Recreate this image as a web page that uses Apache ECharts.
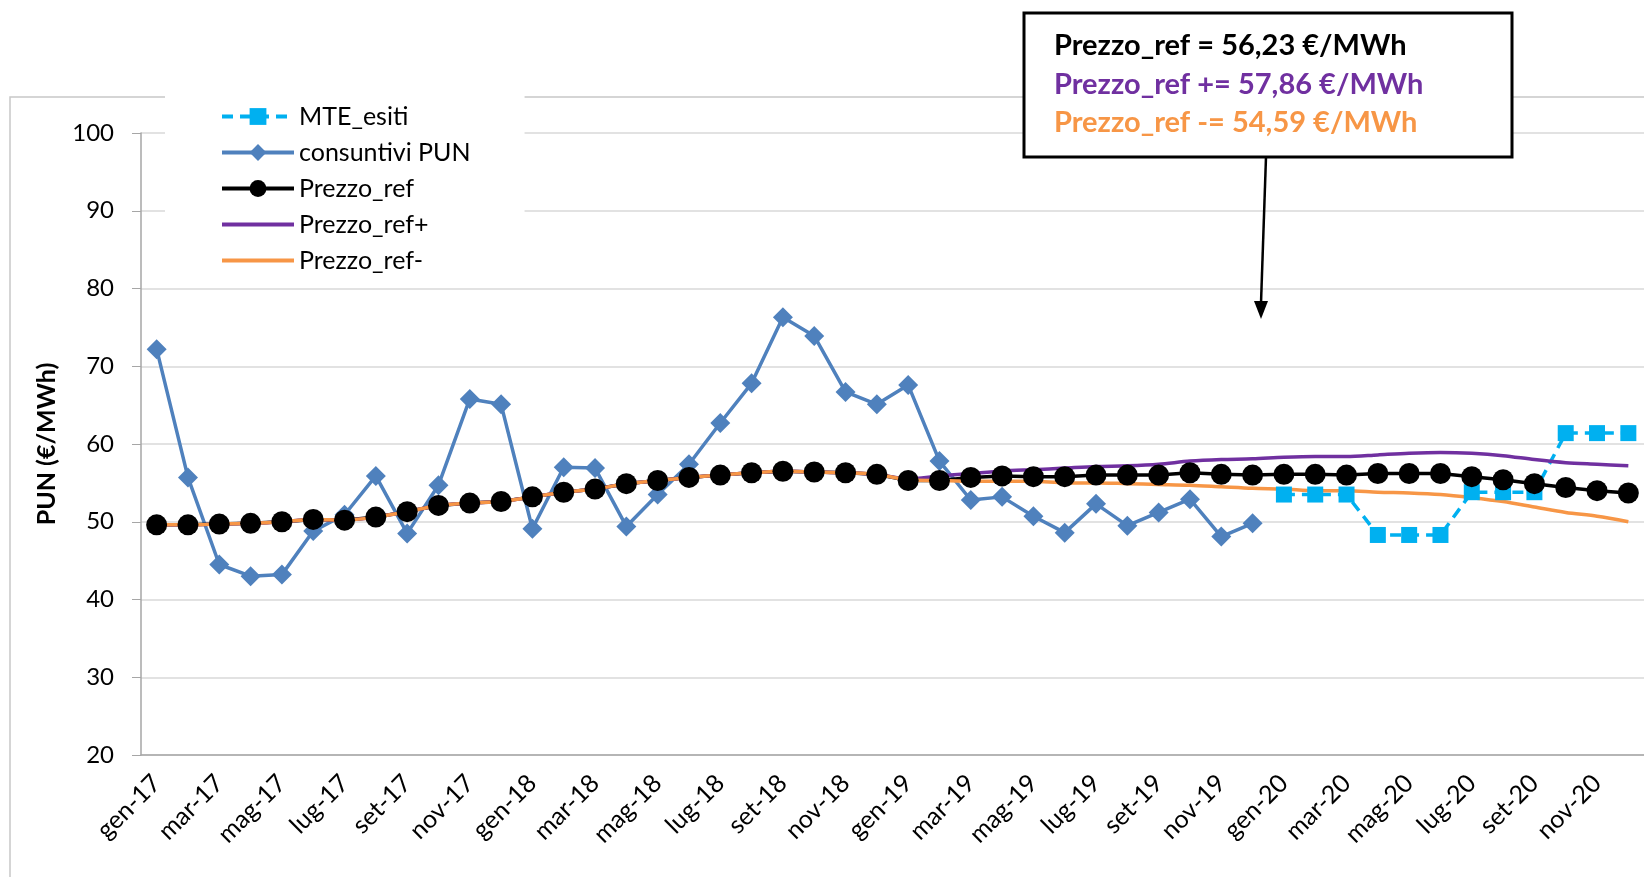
<!DOCTYPE html>
<html>
<head>
<meta charset="utf-8">
<script src="https://cdn.jsdelivr.net/npm/echarts@6/dist/echarts.min.js"></script>
<style>
  html, body { margin: 0; padding: 0; background: #fff; }
  #chart { width: 1644px; height: 877px; }
</style>
</head>
<body>
<div id="chart"></div>
<script>
// mesi gen-17 ... dic-20
const mesi = ['gen', 'feb', 'mar', 'apr', 'mag', 'giu', 'lug', 'ago', 'set', 'ott', 'nov', 'dic'];
const anni = ['17', '18', '19', '20'];
const categories = [];
anni.forEach(a => mesi.forEach(m => categories.push(m + '-' + a)));

const pun = [72.2, 55.7, 44.5, 43.0, 43.2, 48.8, 50.9, 55.9, 48.5, 54.7, 65.8, 65.1,
  49.1, 57.0, 56.9, 49.4, 53.5, 57.4, 62.7, 67.8, 76.3, 73.9, 66.7, 65.1,
  67.6, 57.8, 52.8, 53.2, 50.7, 48.6, 52.3, 49.5, 51.2, 52.9, 48.1, 49.8,
  null, null, null, null, null, null, null, null, null, null, null, null];

const mteEsiti = [null, null, null, null, null, null, null, null, null, null, null, null,
  null, null, null, null, null, null, null, null, null, null, null, null,
  null, null, null, null, null, null, null, null, null, null, null, null,
  53.5, 53.5, 53.5, 48.3, 48.3, 48.3, 53.8, 53.8, 53.8, 61.4, 61.4, 61.4];

const prezzoRef = [49.6, 49.6, 49.7, 49.8, 50.0, 50.3, 50.2, 50.6, 51.3, 52.1, 52.4, 52.6,
  53.2, 53.8, 54.2, 54.9, 55.3, 55.7, 56.0, 56.3, 56.5, 56.4, 56.3, 56.1,
  55.3, 55.3, 55.7, 55.9, 55.8, 55.8, 56.0, 56.0, 56.0, 56.3, 56.1, 56.0,
  56.1, 56.1, 56.0, 56.2, 56.2, 56.2, 55.8, 55.4, 54.9, 54.4, 54.0, 53.7];

const prezzoRefPiu = [49.6, 49.6, 49.7, 49.8, 50.0, 50.3, 50.2, 50.6, 51.3, 52.1, 52.4, 52.6,
  53.2, 53.8, 54.2, 54.9, 55.3, 55.7, 56.0, 56.3, 56.5, 56.4, 56.3, 56.1,
  55.5, 55.9, 56.2, 56.5, 56.7, 56.9, 57.1, 57.2, 57.4, 57.8, 58.0, 58.1,
  58.3, 58.4, 58.4, 58.6, 58.8, 58.9, 58.8, 58.5, 58.0, 57.6, 57.4, 57.2];

const prezzoRefMeno = [49.6, 49.6, 49.7, 49.8, 50.0, 50.3, 50.2, 50.6, 51.3, 52.1, 52.4, 52.6,
  53.2, 53.8, 54.2, 54.9, 55.3, 55.7, 56.0, 56.3, 56.5, 56.4, 56.3, 56.1,
  55.4, 55.3, 55.2, 55.2, 55.2, 55.0, 55.0, 54.9, 54.8, 54.7, 54.5, 54.3,
  54.2, 54.0, 54.0, 53.8, 53.7, 53.5, 53.1, 52.6, 51.9, 51.2, 50.7, 50.0];

const boxLines = [
  { text: 'Prezzo_ref = 56,23 €/MWh', color: '#000000' },
  { text: 'Prezzo_ref += 57,86 €/MWh', color: '#7030A0' },
  { text: 'Prezzo_ref -= 54,59 €/MWh', color: '#F79646' }
];

const FONT = 'Lato, "Open Sans", sans-serif';
const chart = echarts.init(document.getElementById('chart'));

const option = {
  animation: false,
  backgroundColor: '#fff',
  textStyle: { fontFamily: FONT },
  grid: { left: 141, right: -2, top: 133, bottom: 122 },
  legend: {
    orient: 'vertical',
    left: 165,
    top: 93,
    padding: [11, 54, 14, 55],
    backgroundColor: '#fff',
    itemWidth: 72,
    itemHeight: 21,
    itemGap: 11,
    lineStyle: { width: 4 },
    textStyle: { fontSize: 25, color: '#000', fontFamily: FONT },
    data: [
      'MTE_esiti',
      'consuntivi PUN',
      'Prezzo_ref',
      { name: 'Prezzo_ref+', itemStyle: { opacity: 0 } },
      { name: 'Prezzo_ref-', itemStyle: { opacity: 0 } }
    ]
  },
  xAxis: {
    type: 'category',
    data: categories,
    boundaryGap: true,
    axisLine: { lineStyle: { color: '#a6a6a6', width: 1.5 } },
    axisTick: { interval: 1, length: 9, lineStyle: { color: '#a6a6a6' } },
    axisLabel: { interval: 1, rotate: 45, margin: 24, fontSize: 25, color: '#000', fontFamily: FONT },
    splitLine: { show: false }
  },
  yAxis: {
    type: 'value',
    min: 20,
    max: 100,
    interval: 10,
    name: 'PUN (€/MWh)',
    nameLocation: 'middle',
    nameGap: 82,
    nameTextStyle: { fontSize: 25, fontWeight: 'bold', color: '#000', fontFamily: FONT },
    axisLine: { show: true, lineStyle: { color: '#a6a6a6', width: 1.5 } },
    axisTick: { show: true, length: 9, lineStyle: { color: '#a6a6a6' } },
    axisLabel: { margin: 27, fontSize: 24, color: '#000', fontFamily: FONT },
    splitLine: { lineStyle: { color: '#d9d9d9', width: 1.5 } }
  },
  series: [
    {
      name: 'MTE_esiti',
      type: 'line',
      data: mteEsiti,
      symbol: 'rect',
      symbolSize: 16,
      showAllSymbol: true,
      itemStyle: { color: '#00B0F0' },
      lineStyle: { color: '#00B0F0', width: 3.5, type: [11, 7] }
    },
    {
      name: 'consuntivi PUN',
      type: 'line',
      data: pun,
      symbol: 'diamond',
      symbolSize: 20,
      showAllSymbol: true,
      itemStyle: { color: '#4F81BD' },
      lineStyle: { color: '#4F81BD', width: 3.5 }
    },
    {
      name: 'Prezzo_ref',
      type: 'line',
      data: prezzoRef,
      symbol: 'circle',
      symbolSize: 21,
      showAllSymbol: true,
      itemStyle: { color: '#000' },
      lineStyle: { color: '#000', width: 3.5 }
    },
    {
      name: 'Prezzo_ref+',
      type: 'line',
      data: prezzoRefPiu,
      symbol: 'none',
      smooth: 0.3,
      itemStyle: { color: '#7030A0' },
      lineStyle: { color: '#7030A0', width: 3.5 }
    },
    {
      name: 'Prezzo_ref-',
      type: 'line',
      data: prezzoRefMeno,
      symbol: 'none',
      smooth: 0.3,
      itemStyle: { color: '#F79646' },
      lineStyle: { color: '#F79646', width: 3.5 }
    }
  ],
  graphic: [
    {
      type: 'rect',
      z: -10,
      silent: true,
      shape: { x: 10, y: 97, width: 1700, height: 900 },
      style: { fill: 'none', stroke: '#c8c8c8', lineWidth: 1.5 }
    },
    {
      type: 'line',
      z: 10,
      shape: { x1: 1266, y1: 157, x2: 1261, y2: 303 },
      style: { stroke: '#000', lineWidth: 2.5 }
    },
    {
      type: 'polygon',
      z: 10,
      shape: { points: [[1254, 301], [1268, 301], [1261, 319]] },
      style: { fill: '#000' }
    },
    {
      type: 'rect',
      z: 10,
      shape: { x: 1024, y: 13, width: 488, height: 144 },
      style: { fill: '#fff', stroke: '#000', lineWidth: 3 }
    }
  ].concat(boxLines.map((l, i) => ({
    type: 'text',
    z: 11,
    style: {
      x: 1054,
      y: 46 + i * 38.5,
      text: l.text,
      fill: l.color,
      font: 'bold 29px ' + FONT,
      verticalAlign: 'middle'
    }
  })))
};

chart.setOption(option);
</script>
</body>
</html>
